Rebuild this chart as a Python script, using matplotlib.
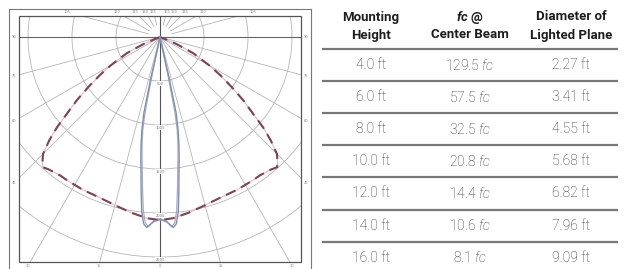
import numpy as np
import matplotlib
matplotlib.use("Agg")
import matplotlib.pyplot as plt
from matplotlib.patches import Rectangle, Circle

# Candela distribution (angle from nadir in degrees, candela)
beam_angles = [0, 2, 4, 5, 6, 7, 8, 9, 10, 11, 12, 12.5, 13]
beam_cd = [2072, 2100, 2170, 2130, 1990, 1760, 1550, 1390, 1240, 1080, 880, 500, 0]

beam2_angles = [0, 2, 3.5, 4.5, 5.5, 6.5, 7.5, 8.5, 9.5, 10.5, 11.2, 11.7, 12.2]
beam2_cd = [2065, 2090, 2160, 2120, 1980, 1750, 1545, 1385, 1235, 1075, 870, 490, 0]

wide_angles = [0, 4, 9, 14, 20, 27, 33, 36, 40, 42, 43, 45, 47, 48.8, 50, 52.8, 55, 57.7, 60, 64, 67, 69.5]
wide_cd = [2080, 2065, 2025, 1985, 1952, 1945, 1940, 1940, 1965, 1990, 1960, 1880, 1720,
           1554, 1420, 1184, 1000, 807, 650, 420, 200, 0]

ring_values = [500, 1000, 1500, 2000, 2500]
lower_rays = [15, 30, 45, 60, 75]
upper_rays = [105, 120, 135, 150, 165]

# Table
mount_height = [4.0, 6.0, 8.0, 10.0, 12.0, 14.0, 16.0]
fc_center = [129.5, 57.5, 32.5, 20.8, 14.4, 10.6, 8.1]
diameter = [2.27, 3.41, 4.55, 5.68, 6.82, 7.96, 9.09]
header_top = ["Mounting", r"$\mathbf{fc}$ @", "Diameter of"]
header_bot = ["Height", "Center Beam", "Lighted Plane"]

plt.rcParams['mathtext.fontset'] = 'custom'
plt.rcParams['mathtext.it'] = 'Roboto:style=italic:weight=light'
plt.rcParams['mathtext.bf'] = 'Roboto:style=italic:weight=bold'

fig = plt.figure(figsize=(6.28, 2.69), dpi=100)
fig.patch.set_facecolor("white")

# ---- photometric diagram ----
ax = fig.add_axes([9 / 628, 0, 302 / 628, 260 / 269])
ax.set_xlim(-1716, 1716)
ax.set_ylim(-2636, 318)
ax.set_xticks([])
ax.set_yticks([])
for side in ["top", "left", "right"]:
    ax.spines[side].set_color("#777777")
    ax.spines[side].set_linewidth(0.8)
ax.spines["bottom"].set_visible(False)

frame = Rectangle((-1602, -2557), 3204, 2796, fill=False, ec="#555555", lw=0.9, zorder=5)
ax.add_patch(frame)

grid_kw = dict(color="#b5b5b5", lw=0.6, zorder=1)
for r in ring_values:
    c = Circle((0, 0), r, fill=False, ec="#b5b5b5", lw=0.6, zorder=1)
    ax.add_patch(c)
    c.set_clip_path(frame)

far = 5000
for a in lower_rays:
    for s in (-1, 1):
        t = np.radians(s * a)
        ln, = ax.plot([0, far * np.sin(t)], [0, -far * np.cos(t)], **grid_kw)
        ln.set_clip_path(frame)
for a in upper_rays:
    for s in (-1, 1):
        t = np.radians(s * a)
        ln, = ax.plot([140 * np.sin(t), far * np.sin(t)], [-140 * np.cos(t), -far * np.cos(t)], **grid_kw)
        ln.set_clip_path(frame)

ax.plot([-1602, 1602], [0, 0], color="#666666", lw=0.8, zorder=2)
ax.plot([0, 0], [239, -2557], color="#555555", lw=0.8, zorder=2)

# ring labels
for r in ring_values:
    ax.text(0, -r - 30, str(r), fontsize=2.6, color="#777777", ha="center", va="center",
            bbox=dict(fc="white", ec="none", pad=0.3), zorder=3)

# angle labels in the outer strip
lab_kw = dict(fontsize=2.6, color="#888888", ha="center", va="center")
for a in [90] + lower_rays[::-1]:
    t = np.radians(a)
    if a >= 45:
        y = -1660 / np.tan(t)
        ax.text(-1660, y, str(a), **lab_kw)
        ax.text(1660, y, str(a), **lab_kw)
for a in [0, 15, 30]:
    x = 2600 * np.tan(np.radians(a))
    ax.text(-x, -2605, str(a), **lab_kw)
    if a:
        ax.text(x, -2605, str(a), **lab_kw)
for a in upper_rays:
    x = 284 * np.tan(np.radians(180 - a))
    ax.text(-x, 284, str(a), **lab_kw)
    ax.text(x, 284, str(a), **lab_kw)


def to_xy(angles, cd):
    ang = np.radians(np.concatenate([-np.array(angles)[::-1], np.array(angles)[1:]]))
    rr = np.concatenate([np.array(cd)[::-1], np.array(cd)[1:]])
    return rr * np.sin(ang), -rr * np.cos(ang)


wx, wy = to_xy(wide_angles, wide_cd)
ax.plot(wx, wy, color="#e7b9c2", lw=0.8, zorder=3)
ax.plot(wx, wy, color="#7d4352", lw=1.5, dashes=(5, 3), zorder=4)

b2x, b2y = to_xy(beam2_angles, beam2_cd)
ax.plot(b2x, b2y, color="#a9adb8", lw=0.9, zorder=3)
bx, by = to_xy(beam_angles, beam_cd)
ax.plot(bx, by, color="#7f8fb8", lw=1.0, zorder=4)

# ---- table ----
tx = fig.add_axes([320 / 628, 0, 308 / 628, 1])
tx.set_xlim(320, 628)
tx.set_ylim(269, 0)
tx.axis("off")

col_x = [371, 470, 571]
for i in range(3):
    tx.text(col_x[i], 17, header_top[i], family="Roboto", weight="bold", fontsize=9.5,
            color="#1e1e1e", ha="center", va="center")
    tx.text(col_x[i], 35, header_bot[i], family="Roboto", weight="bold", fontsize=9.5,
            color="#1e1e1e", ha="center", va="center")

row_y0 = 49
row_h = 32.1
for k in range(len(mount_height)):
    yl = row_y0 + k * row_h
    tx.plot([322, 618], [yl, yl], color="#777777", lw=1.6, solid_capstyle="butt")

body_kw = dict(family="Roboto", weight="light", fontsize=10, color="#2e2e2e", ha="center", va="center")
for k in range(len(mount_height)):
    yc = row_y0 + k * row_h + 16
    tx.text(col_x[0], yc, f"{mount_height[k]:.1f} ft", **body_kw)
    tx.text(col_x[1], yc, f"{fc_center[k]:.1f} $fc$", **body_kw)
    tx.text(col_x[2], yc, f"{diameter[k]:.2f} ft", **body_kw)

fig.savefig("out.png", dpi=100, facecolor="white")
